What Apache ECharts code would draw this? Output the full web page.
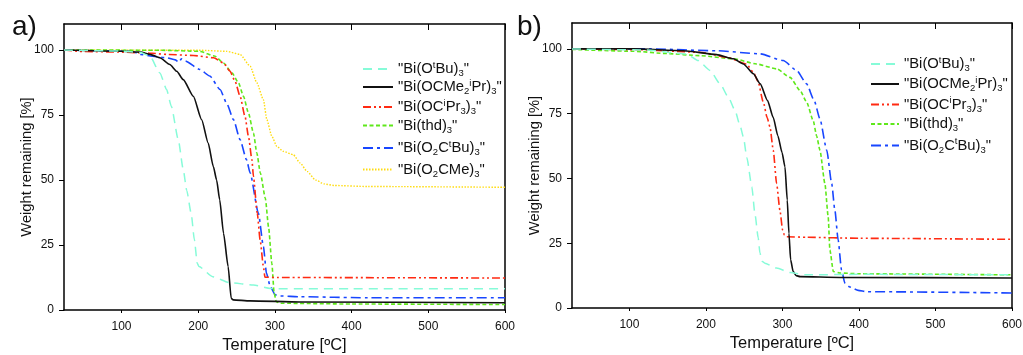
<!DOCTYPE html>
<html><head><meta charset="utf-8">
<script src="https://cdn.jsdelivr.net/npm/echarts@6/dist/echarts.min.js"></script>
<style>html,body{margin:0;padding:0;background:#fff}#c{width:1023px;height:355px}</style>
</head><body><div id="c"></div>
<script>
// ---- tick labels ----
const xTicks = [100, 200, 300, 400, 500, 600];
const yTicks = [0, 25, 50, 75, 100];

// ---- Panel a) ----
const aOtBuT = [25, 100, 125, 137, 150, 158.8, 165, 174, 180.5, 185, 190.8, 195, 198.7, 201, 219, 241, 272, 294, 303, 400, 600];
const aOtBuW = [100, 99.6, 99, 97.6, 91.2, 84.8, 78.3, 65.5, 54, 46, 37.2, 27, 18, 16.7, 12.8, 10.5, 9.6, 8.3, 8.2, 8.2, 8.2];
const aOCMeT = [25, 100, 125, 137, 150, 163, 172, 180.5, 193.6, 204.5, 213, 219.7, 224, 228, 233, 239, 243, 245.6, 267.5, 333, 600];
const aOCMeW = [100, 99.5, 99.2, 98.3, 97, 94.4, 91.8, 88.6, 82.2, 73.2, 64.2, 55.2, 50, 42.4, 29.5, 16.7, 4.5, 3.9, 3.5, 3.1, 2.8];
const aOCiPrT = [25, 50, 100, 136, 159, 193.6, 220, 233, 241.5, 248, 254.6, 261, 265.5, 270, 272, 277, 280.7, 285, 287, 303, 600];
const aOCiPrW = [100, 99.4, 99.2, 98.8, 98.3, 97.9, 97, 95, 91.8, 88, 82.2, 74.5, 66.8, 57.8, 51.4, 37.2, 27, 16.7, 12.6, 12.5, 12.3];
const aThdT = [25, 150, 202, 222, 233, 244, 252.5, 259, 265.5, 272, 276.4, 281, 287.5, 291.7, 296, 299, 301.8, 307, 400, 600];
const aThdW = [100, 99.9, 99.5, 97.6, 95, 91.2, 87.4, 82.2, 75.8, 68.1, 60.4, 52.7, 43, 32, 18, 6.4, 3.2, 2.6, 2.3, 2.1];
const aO2CtBuT = [25, 114, 124, 140, 159, 170, 175, 178, 183, 202, 215, 228.5, 237, 246, 254.6, 263, 267.7, 278.5, 285, 289, 294, 300.4, 307, 333, 421, 600];
const aO2CtBuW = [100, 99.5, 98.3, 97.6, 97, 96.2, 95.3, 96.6, 95.8, 92.5, 90, 84.8, 79.6, 73.2, 65.5, 57.8, 52.7, 37.2, 24.4, 14.1, 9, 5.8, 5.4, 5.1, 4.7, 4.7];
const aO2CMeT = [25, 201.8, 237, 254.6, 267.7, 276.4, 285, 289.5, 296, 302.6, 311, 324, 333, 342, 353, 364, 377, 421, 600];
const aO2CMeW = [100, 99.9, 99.5, 98.3, 93.8, 87.4, 80.9, 73.2, 66.8, 62.9, 61, 59.7, 56.5, 53.3, 50, 48.5, 47.9, 47.5, 47.2];

// ---- Panel b) ----
const bOtBuT = [25, 120, 175, 190, 205.4, 218.5, 229.3, 238, 244.5, 249, 253.5, 260, 264, 268.4, 270.6, 273.5, 277, 292.4, 309.8, 331.6, 400, 600];
const bOtBuW = [100, 99.6, 98, 95.5, 91.7, 86.5, 81.4, 76.3, 70.5, 66, 58, 46.8, 36.5, 27, 21.2, 18, 17.3, 15.4, 13.7, 12.8, 13, 12.8];
const bOCMeT = [25, 105.6, 170.6, 214, 236, 249, 262, 271, 280.5, 288, 294, 299.5, 303.3, 306.3, 308.5, 310.7, 314, 318, 323, 375, 600];
const bOCMeW = [100, 100, 99.3, 97.8, 96.2, 94.2, 90.4, 86.5, 80.1, 73.5, 66.5, 60, 54.5, 41.7, 28.8, 18.6, 14.1, 12.5, 12.1, 11.8, 11.6];
const bOCiPrT = [25, 110, 192.6, 227, 253, 262, 268, 275, 280, 283.7, 288, 292.4, 296.7, 300.2, 302.5, 305.5, 331.6, 401, 600];
const bOCiPrW = [100, 99.7, 98.7, 96.8, 94.2, 91, 87.5, 79.5, 73.5, 69.9, 60.9, 48, 37.8, 30.1, 28.2, 27.5, 27.3, 26.9, 26.5];
const bThdT = [25, 105.6, 149, 192, 236, 266, 292.5, 310, 323, 331.6, 340.2, 344.6, 349, 355.5, 359.8, 362, 366.5, 375, 401, 600];
const bThdW = [99.8, 99.1, 98.2, 97.4, 96.2, 94.2, 92.3, 89, 84, 79.5, 72.4, 66.5, 60.9, 48, 35.2, 22.4, 14.1, 13.5, 13.2, 12.8];
const bO2CtBuT = [25, 127, 214, 270.7, 301, 318.5, 331.6, 341.5, 349, 357.9, 364.4, 368.5, 372.8, 377.2, 381.6, 388, 399, 410, 600];
const bO2CtBuW = [100, 100, 99.3, 98.1, 95.5, 91.7, 86.5, 80.1, 73, 60.9, 48, 37.8, 26.3, 14.7, 9.6, 8.1, 6.8, 6.3, 5.8];

const labels = {
  OtBu: '"Bi(O{sup|t}Bu){sub|3}"',
  OCMe: '"Bi(OCMe{sub|2}{sup|i}Pr){sub|3}"',
  OCiPr: '"Bi(OC{sup|i}Pr{sub|3}){sub|3}"',
  thd: '"Bi(thd){sub|3}"',
  O2CtBu: '"Bi(O{sub|2}C{sup|t}Bu){sub|3}"',
  O2CMe: '"Bi(O{sub|2}CMe){sub|3}"'
};
const styles = {
  OtBu: {color: '#86fbd8', type: [9, 6], width: 1.5},
  OCMe: {color: '#111111', type: 'solid', width: 1.6},
  OCiPr: {color: '#ff2a12', type: [8, 3, 2, 3, 2, 3], width: 1.6},
  thd: {color: '#5fe81a', type: [4, 2.5], width: 1.6},
  O2CtBu: {color: '#1846ff', type: [10, 4, 3, 4], width: 1.6},
  O2CMe: {color: '#ffdc10', type: [1.5, 1.5], width: 1.4}
};
const panelA = {OtBu: [aOtBuT, aOtBuW], OCMe: [aOCMeT, aOCMeW], OCiPr: [aOCiPrT, aOCiPrW], thd: [aThdT, aThdW], O2CtBu: [aO2CtBuT, aO2CtBuW], O2CMe: [aO2CMeT, aO2CMeW]};
const panelB = {OtBu: [bOtBuT, bOtBuW], OCMe: [bOCMeT, bOCMeW], OCiPr: [bOCiPrT, bOCiPrW], thd: [bThdT, bThdW], O2CtBu: [bO2CtBuT, bO2CtBuW]};

const FONT = '"Liberation Sans", Arial, sans-serif';
const rich = {
  sup: {fontSize: 9.5, fontFamily: FONT, color: '#111', padding: [0, 0, 8, 0]},
  sub: {fontSize: 9.5, fontFamily: FONT, color: '#111', padding: [9, 0, 0, 0]}
};

function xAxes(gi) {
  return [
    {type: 'value', gridIndex: gi, min: 25, max: 600, position: 'bottom',
     name: 'Temperature [ºC]', nameLocation: 'middle', nameGap: 27, nameMoveOverlap: false,
     nameTextStyle: {fontSize: 16.5, fontFamily: FONT, color: '#111'},
     axisLine: {lineStyle: {color: '#000', width: 1.5}},
     axisTick: {show: true, length: 3, customValues: xTicks, lineStyle: {color: '#000'}},
     axisLabel: {customValues: xTicks, fontSize: 12, fontFamily: FONT, color: '#111', margin: 11},
     splitLine: {show: false}},
    {type: 'value', gridIndex: gi, min: 25, max: 600, position: 'top',
     axisLine: {show: true, onZero: false, lineStyle: {color: '#000', width: 1.5}},
     axisTick: {show: true, inside: true, length: 6, customValues: xTicks, lineStyle: {color: '#000'}},
     axisLabel: {show: false}, splitLine: {show: false}}
  ];
}
function yAxes(gi) {
  return [
    {type: 'value', gridIndex: gi, min: 0, max: 110, position: 'left',
     name: 'Weight remaining [%]', nameLocation: 'middle', nameGap: 30, nameRotate: 90, nameMoveOverlap: false,
     nameTextStyle: {fontSize: 14.7, fontFamily: FONT, color: '#111'},
     axisLine: {show: true, lineStyle: {color: '#000', width: 1.5}},
     axisTick: {show: true, length: 5, customValues: yTicks, lineStyle: {color: '#000'}},
     axisLabel: {customValues: yTicks, fontSize: 12, fontFamily: FONT, color: '#111', margin: 10},
     splitLine: {show: false}},
    {type: 'value', gridIndex: gi, min: 0, max: 110, position: 'right',
     axisLine: {show: true, onZero: false, lineStyle: {color: '#000', width: 1.5}},
     axisTick: {show: false}, axisLabel: {show: false}, splitLine: {show: false}}
  ];
}

const series = [];
const legends = [];
function addPanel(panel, gi, legLeft, legCenters, iconW) {
  Object.keys(panel).forEach((k, i) => {
    const [T, W] = panel[k];
    const id = k + '_' + gi;
    series.push({
      name: id, type: 'line', xAxisIndex: gi * 2, yAxisIndex: gi * 2,
      data: T.map((t, j) => [t, W[j]]),
      symbol: 'none', smooth: 0.2, smoothMonotone: 'x',
      lineStyle: styles[k], itemStyle: {color: styles[k].color},
      z: 10 - i
    });
    legends.push({
      data: [id], left: legLeft, top: legCenters[i] - 10, padding: 0,
      itemWidth: iconW, itemHeight: 14, selectedMode: false,
      itemStyle: {opacity: 0},
      formatter: () => labels[k],
      textStyle: {fontSize: 14.8, fontFamily: FONT, color: '#111', rich: rich}
    });
  });
}
addPanel(panelA, 0, 362, [70, 88, 108, 128, 149, 172], 30);
addPanel(panelB, 1, 870, [65, 85, 105.5, 126.5, 146.5], 28);

const chart = echarts.init(document.getElementById('c'), null, {renderer: 'canvas'});
chart.setOption({
  animation: false,
  backgroundColor: '#fff',
  title: [
    {text: 'a)', left: 7, top: 8, textStyle: {fontSize: 28, fontWeight: 'normal', fontFamily: FONT, color: '#111'}},
    {text: 'b)', left: 512, top: 8, textStyle: {fontSize: 28, fontWeight: 'normal', fontFamily: FONT, color: '#111'}}
  ],
  grid: [
    {left: 64, top: 24, width: 441, height: 286, outerBoundsMode: 'none'},
    {left: 572, top: 23, width: 440, height: 285, outerBoundsMode: 'none'}
  ],
  xAxis: [...xAxes(0), ...xAxes(1)],
  yAxis: [...yAxes(0), ...yAxes(1)],
  legend: legends,
  series: series
});
</script></body></html>
